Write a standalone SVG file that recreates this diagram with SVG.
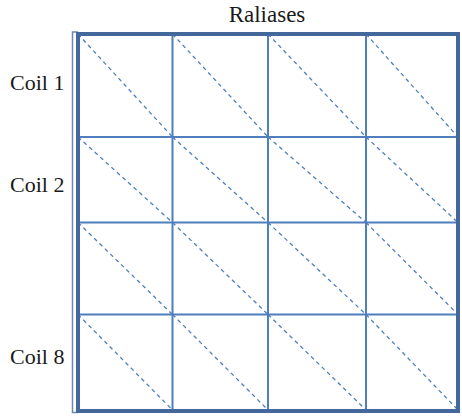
<svg xmlns="http://www.w3.org/2000/svg" width="462" height="416" viewBox="0 0 462 416">
  <style>
    text { font-family: 'Liberation Serif', 'Times New Roman', 'DejaVu Serif', serif; fill: #1a1a1a; }
    .label { font-size: 22px; }
    .title { font-size: 23px; }
    .grid { stroke: #4f7fbd; stroke-width: 2; fill: none; }
    .diag { stroke: #4f7fbd; stroke-width: 1.3; stroke-dasharray: 4 3.5; fill: none; }
    .frame { stroke: #44679c; stroke-width: 4; fill: none; }
    .bracket { stroke: #6f89b0; stroke-width: 1.5; fill: none; }
  </style>
  <rect width="462" height="416" fill="#ffffff"/>

  <g id="title">
    <text class="title" x="267" y="22" text-anchor="middle" font-family="Liberation Serif, serif">Raliases</text>
  </g>

  <g id="coil-labels" font-family="Liberation Serif, serif">
    <text class="label" x="10" y="90">Coil 1</text>
    <text class="label" x="10" y="192">Coil 2</text>
    <text class="label" x="10" y="364">Coil 8</text>
  </g>

  <g id="diagonals">
    <!-- row 1 -->
    <line class="diag" x1="78" y1="34" x2="172.5" y2="137"/>
    <line class="diag" x1="172.5" y1="34" x2="268" y2="137"/>
    <line class="diag" x1="268" y1="34" x2="366" y2="137"/>
    <line class="diag" x1="366" y1="34" x2="458" y2="137"/>
    <!-- row 2 -->
    <line class="diag" x1="78" y1="137" x2="172.5" y2="222.5"/>
    <line class="diag" x1="172.5" y1="137" x2="268" y2="222.5"/>
    <line class="diag" x1="268" y1="137" x2="366" y2="222.5"/>
    <line class="diag" x1="366" y1="137" x2="458" y2="222.5"/>
    <!-- row 3 -->
    <line class="diag" x1="78" y1="222.5" x2="172.5" y2="314.5"/>
    <line class="diag" x1="172.5" y1="222.5" x2="268" y2="314.5"/>
    <line class="diag" x1="268" y1="222.5" x2="366" y2="314.5"/>
    <line class="diag" x1="366" y1="222.5" x2="458" y2="314.5"/>
    <!-- row 4 -->
    <line class="diag" x1="78" y1="314.5" x2="172.5" y2="410"/>
    <line class="diag" x1="172.5" y1="314.5" x2="268" y2="410"/>
    <line class="diag" x1="268" y1="314.5" x2="366" y2="410"/>
    <line class="diag" x1="366" y1="314.5" x2="458" y2="410"/>
  </g>

  <g id="grid">
    <line class="grid" x1="172.5" y1="34" x2="172.5" y2="410"/>
    <line class="grid" x1="268" y1="34" x2="268" y2="410"/>
    <line class="grid" x1="366" y1="34" x2="366" y2="410"/>
    <line class="grid" x1="78" y1="137" x2="458" y2="137"/>
    <line class="grid" x1="78" y1="222.5" x2="458" y2="222.5"/>
    <line class="grid" x1="78" y1="314.5" x2="458" y2="314.5"/>
  </g>

  <g id="frame">
    <polyline class="bracket" points="78,32 72.5,32 72.5,412.5 78,412.5"/>
    <rect class="frame" x="78" y="34" width="380" height="377"/>
  </g>
</svg>
